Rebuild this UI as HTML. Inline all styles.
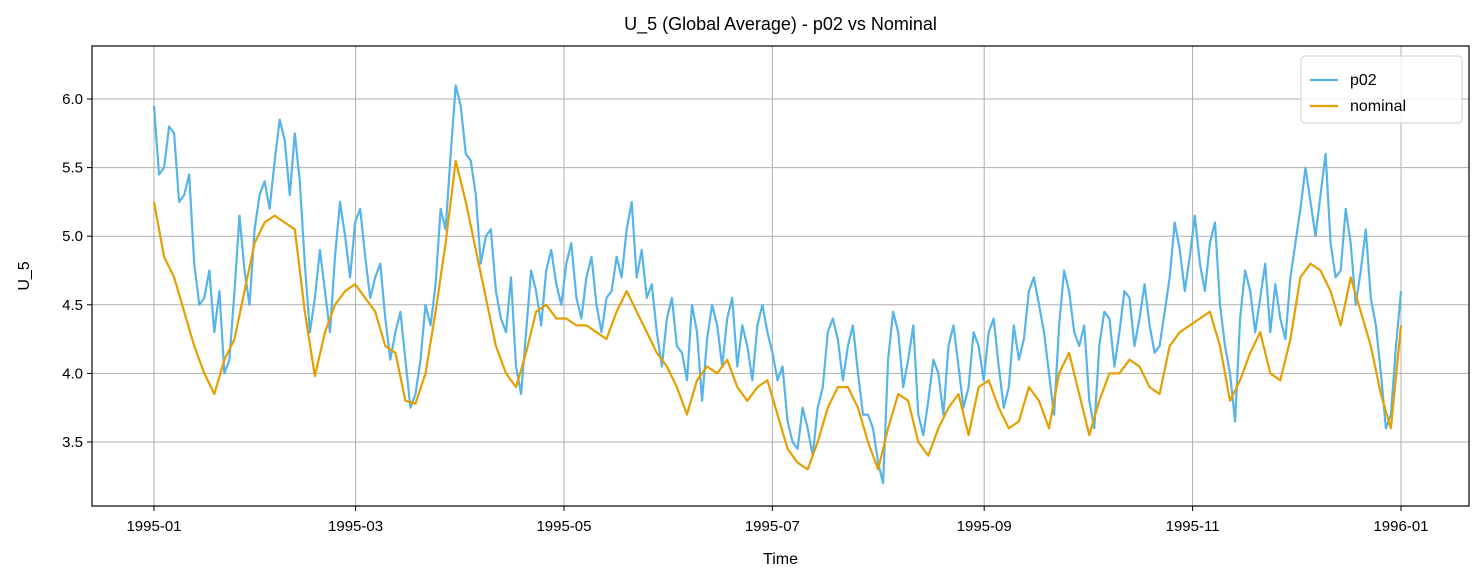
<!DOCTYPE html>
<html><head><meta charset="utf-8"><style>
body{margin:0;background:#fff;}
svg{display:block;font-family:"Liberation Sans","DejaVu Sans",sans-serif;}
</style></head><body>
<svg id="chart" width="1484" height="584"></svg>
<script>
const startDay = 0; // 1995-01-01
const stepDays = 365 / 124;
const nominalValues = [5.25,4.85,4.7,4.45,4.2,4.0,3.85,4.1,4.25,4.6,4.95,5.1,5.15,5.1,5.05,4.45,3.98,4.3,4.5,4.6,4.65,4.55,4.45,4.2,4.15,3.8,3.78,4.0,4.45,4.95,5.55,5.25,4.9,4.55,4.2,4.0,3.9,4.15,4.45,4.5,4.4,4.4,4.35,4.35,4.3,4.25,4.45,4.6,4.45,4.3,4.15,4.05,3.9,3.7,3.95,4.05,4.0,4.1,3.9,3.8,3.9,3.95,3.7,3.45,3.35,3.3,3.5,3.75,3.9,3.9,3.75,3.5,3.3,3.6,3.85,3.8,3.5,3.4,3.6,3.75,3.85,3.55,3.9,3.95,3.75,3.6,3.65,3.9,3.8,3.6,4.0,4.15,3.85,3.55,3.8,4.0,4.0,4.1,4.05,3.9,3.85,4.2,4.3,4.35,4.4,4.45,4.2,3.8,3.95,4.15,4.3,4.0,3.95,4.25,4.7,4.8,4.75,4.6,4.35,4.7,4.45,4.2,3.85,3.6,4.35];
const p02Values = [5.95,5.5,5.75,5.3,4.8,4.55,4.3,4.0,4.6,4.75,5.05,5.4,5.55,5.7,5.75,4.8,4.55,4.6,4.85,5.0,5.1,4.85,4.7,4.4,4.3,4.1,3.85,4.5,4.65,5.05,6.1,5.6,5.3,5.0,4.6,4.3,4.05,4.3,4.6,4.75,4.65,4.8,4.55,4.7,4.5,4.55,4.85,5.05,4.7,4.55,4.3,4.4,4.2,3.95,4.3,4.25,4.35,4.4,4.05,4.2,4.35,4.3,3.95,3.65,3.45,3.6,3.75,4.3,4.25,4.2,4.0,3.7,3.35,4.1,4.3,4.1,3.7,3.8,4.0,4.2,4.05,3.9,4.2,4.3,4.05,3.9,4.1,4.6,4.5,4.0,4.35,4.6,4.2,3.8,4.2,4.4,4.3,4.55,4.4,4.35,4.2,4.7,4.9,4.85,4.8,4.95,4.5,4.0,4.4,4.6,4.55,4.3,4.4,4.7,5.2,5.25,5.3,4.95,4.75,4.95,4.75,4.55,4.0,3.7,4.6];
const p02MidValues = [5.45,5.8,5.25,5.45,4.5,4.75,4.6,4.1,5.15,4.5,5.3,5.2,5.85,5.3,5.4,4.3,4.9,4.3,5.25,4.7,5.2,4.55,4.8,4.1,4.45,3.75,4.1,4.35,5.2,5.6,5.95,5.55,4.8,5.05,4.4,4.7,3.85,4.75,4.35,4.9,4.5,4.95,4.4,4.85,4.3,4.6,4.7,5.25,4.9,4.65,4.05,4.55,4.15,4.5,3.8,4.5,4.05,4.55,4.35,3.95,4.5,4.15,4.05,3.5,3.75,3.4,3.9,4.4,3.95,4.35,3.7,3.6,3.2,4.45,3.9,4.35,3.55,4.1,3.7,4.35,3.75,4.3,3.95,4.4,3.75,4.35,4.25,4.7,4.3,3.7,4.75,4.3,4.35,3.6,4.45,4.05,4.6,4.2,4.65,4.15,4.45,5.1,4.6,5.15,4.6,5.1,4.2,3.65,4.75,4.3,4.8,4.65,4.25,4.95,5.5,5.0,5.6,4.7,5.2,4.5,5.05,4.35,3.6,4.2];
const yTicks = [3.5,4.0,4.5,5.0,5.5,6.0];
const xTickDays = [0,59,120,181,243,304,365];
const xTickLabels = ["1995-01","1995-03","1995-05","1995-07","1995-09","1995-11","1996-01"];

const NS="http://www.w3.org/2000/svg";
const svg=document.getElementById('chart');
const L=92,T=46,R=1469,B=506;
const xS=d=>154+(d-0)*(1247/365);
const yS=v=>99+(6-v)*137.2;
function mk(tag,attrs,parent){const e=document.createElementNS(NS,tag);for(const k in attrs)e.setAttribute(k,attrs[k]);(parent||svg).appendChild(e);return e;}

const grid=mk('g',{});


yTicks.forEach(v=>{
  const y=yS(v);
  const ln=mk('line',{x1:L,x2:R,y1:y,y2:y,stroke:'#b0b0b0','stroke-width':1},grid);
  
  
  mk('line',{x1:L-5,x2:L,y1:y,y2:y,stroke:'#000','stroke-width':1});
  const t=mk('text',{x:L-9,y:y+5,'text-anchor':'end','font-size':15,fill:'#000'});
  t.textContent=v.toFixed(1);
  
  
});
xTickDays.forEach((d,i)=>{
  const x=xS(d);
  const ln=mk('line',{x1:x,x2:x,y1:T,y2:B,stroke:'#b0b0b0','stroke-width':1},grid);
  
  
  mk('line',{x1:x,x2:x,y1:B,y2:B+5,stroke:'#000','stroke-width':1});
  const t=mk('text',{x:x,y:B+25,'text-anchor':'middle','font-size':15,fill:'#000'});
  t.textContent=xTickLabels[i];
  
  
});

function draw(pts,color,name){
  const s=pts.map(([d,v])=>xS(d).toFixed(1)+','+yS(v).toFixed(1)).join(' ');
  const p=mk('polyline',{points:s,fill:'none',stroke:color,'stroke-width':2.2,'stroke-linejoin':'round'});
  
  
}
const p02Pts=[];
p02Values.forEach((v,i)=>{
  p02Pts.push([startDay+i*stepDays,v]);
  if(i<p02MidValues.length) p02Pts.push([startDay+(i+0.5)*stepDays,p02MidValues[i]]);
});
draw(p02Pts,'#56b4e9','p02-line');
draw(nominalValues.map((v,i)=>[startDay+i*stepDays,v]),'#e69f00','nominal-line');

const frame=mk('rect',{x:L,y:T,width:R-L,height:B-T,fill:'none',stroke:'#000','stroke-width':1.2});



const title=mk('text',{x:(L+R)/2,y:30,'text-anchor':'middle','font-size':18,fill:'#000'});
title.textContent='U_5 (Global Average) - p02 vs Nominal';


const xl=mk('text',{x:(L+R)/2,y:564,'text-anchor':'middle','font-size':16,fill:'#000'});
xl.textContent='Time';


const yl=mk('text',{x:0,y:0,'text-anchor':'middle','font-size':16,fill:'#000',transform:'translate(29,276) rotate(-90)'});
yl.textContent='U_5';



const lg=mk('g',{});


mk('rect',{x:1301,y:56,width:161,height:67,rx:4,fill:'#fff','fill-opacity':0.8,stroke:'#d0d0d0'},lg);
[['p02','#56b4e9',80],['nominal','#e69f00',106]].forEach(([n,c,y])=>{
  const e=mk('g',{},lg);
  
  
  mk('line',{x1:1310,x2:1338,y1:y,y2:y,stroke:c,'stroke-width':2.2},e);
  const t=mk('text',{x:1350,y:y+5,'font-size':16,fill:'#000'},e);
  t.textContent=n;
});
</script>
</body></html>
